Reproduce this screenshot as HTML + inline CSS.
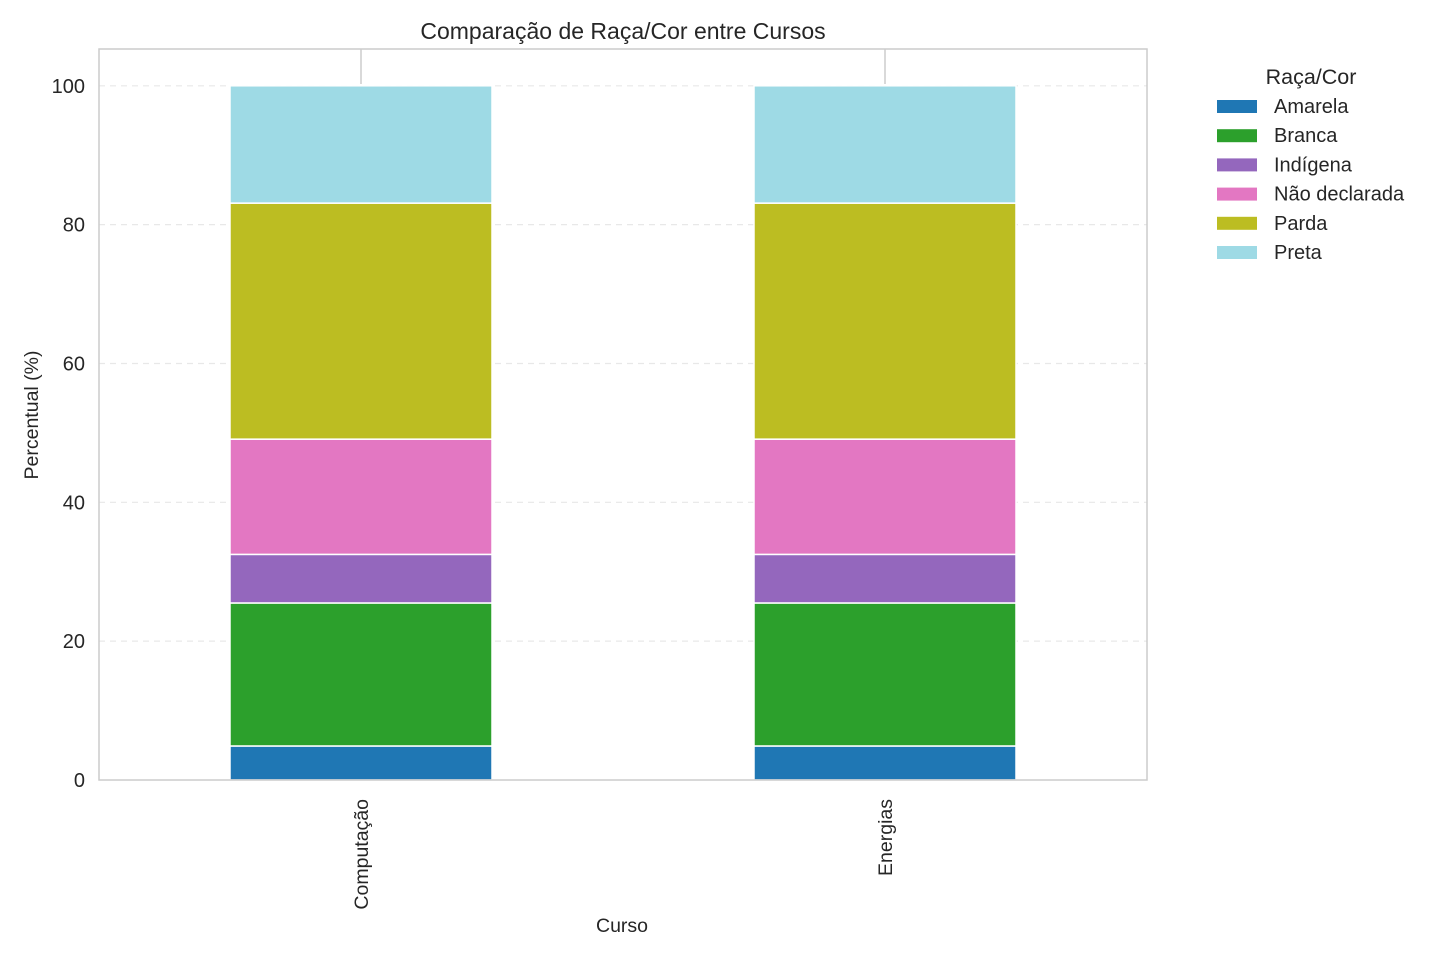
<!DOCTYPE html>
<html><head><meta charset="utf-8">
<style>
body{margin:0;background:#fff;font-family:"Liberation Sans",Arial,sans-serif;}
svg text{font-family:"Liberation Sans",Arial,sans-serif;fill:#262626;}
</style></head>
<body>
<svg id="chart" width="1440" height="960" viewBox="0 0 1440 960" xmlns="http://www.w3.org/2000/svg">
<text x="623" y="39" font-size="23" text-anchor="middle">Comparação de Raça/Cor entre Cursos</text>
<g id="grid"></g>
<g id="bars"></g>
<rect x="99" y="49" width="1048" height="731" fill="none" stroke="#ccc" stroke-width="1.5"/>
<g id="axes"></g>
<text x="622" y="932" font-size="19.5" text-anchor="middle">Curso</text>
<text transform="translate(38,415) rotate(-90)" font-size="19.5" text-anchor="middle">Percentual (%)</text>
<g id="legend"></g>
</svg>
<script>
const categories = ["Computação", "Energias"];
const seriesNames = ["Amarela", "Branca", "Indígena", "Não declarada", "Parda", "Preta"];
const amarela = [4.9, 4.9];
const branca = [20.6, 20.6];
const indigena = [7.0, 7.0];
const naoDeclarada = [16.6, 16.6];
const parda = [34.0, 34.0];
const preta = [16.9, 16.9];
const yTicks = [0, 20, 40, 60, 80, 100];

const series = [amarela, branca, indigena, naoDeclarada, parda, preta];
const colors = ["#1f77b4", "#2ca02c", "#9467bd", "#e377c2", "#bcbd22", "#9edae5"];
const NS = "http://www.w3.org/2000/svg";
const L = 99, R = 1147, T = 49, B = 780;
const yMax = 105.3;
function y(v){ return B - v / yMax * (B - T); }
function x(i){ return L + (i + 0.5) / categories.length * (R - L); }
const bw = 0.5 * (R - L) / categories.length;
function mk(tag, attrs, parent){ const e = document.createElementNS(NS, tag); for (const k in attrs) e.setAttribute(k, attrs[k]); parent.appendChild(e); return e; }

const grid = document.getElementById("grid");
const axes = document.getElementById("axes");
yTicks.forEach(t => {
  if (t > 0) {
    const g = mk("line", {x1: L, x2: R, y1: y(t), y2: y(t), stroke: "#e8e8e8", "stroke-dasharray": "6,5", "stroke-width": 1.2}, grid);
    
    
  }
  const tx = mk("text", {x: L - 14, y: y(t) + 7, "font-size": 20, "text-anchor": "end"}, axes);
  tx.textContent = t;
  
  
});
categories.forEach((c, i) => {
  const tk = mk("line", {x1: x(i), x2: x(i), y1: T, y2: T + 35, stroke: "#ccc", "stroke-width": 1.5}, grid);
  
  
  const tx = mk("text", {transform: `translate(${x(i) + 7},${B + 19}) rotate(-90)`, "font-size": 19.5, "text-anchor": "end"}, axes);
  tx.textContent = c;
  
  
});
const bars = document.getElementById("bars");
categories.forEach((c, i) => {
  let cum = 0;
  series.forEach((s, k) => {
    const v = s[i];
    const r = mk("rect", {x: x(i) - bw / 2, y: y(cum + v), width: bw, height: y(cum) - y(cum + v), fill: colors[k], stroke: "#fff", "stroke-width": 1.5}, bars);
    
    
    cum += v;
  });
});
const leg = document.getElementById("legend");
const lt = mk("text", {x: 1311, y: 84, "font-size": 21.5, "text-anchor": "middle"}, leg);
lt.textContent = "Raça/Cor";


seriesNames.forEach((n, k) => {
  const yy = 106 + k * 29.2;
  const r = mk("rect", {x: 1217, y: yy - 6, width: 40, height: 13, fill: colors[k]}, leg);
  
  
  const t = mk("text", {x: 1274, y: yy + 7, "font-size": 20}, leg);
  t.textContent = n;
  
  
});
</script>
</body></html>
